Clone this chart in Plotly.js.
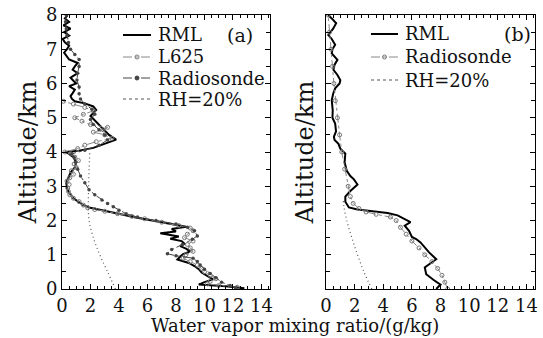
<!DOCTYPE html>
<html><head><meta charset="utf-8">
<script src="https://cdn.plot.ly/plotly-3.0.1.min.js"></script>
<style>html,body{margin:0;padding:0;background:#fff}#chart{width:543px;height:338px}</style>
</head><body><div id="chart"></div>
<script>
// ---- Panel (a) data ----
var rmlA_alt = [0.02,0.08,0.13,0.2,0.28,0.38,0.48,0.58,0.67,0.76,0.86,0.95,1.02,1.1,1.18,1.25,1.32,1.4,1.47,1.53,1.58,1.63,1.68,1.75,1.82,1.88,1.95,2.03,2.1,2.17,2.22,2.28,2.33,2.38,2.45,2.55,2.65,2.8,2.95,3.1,3.25,3.4,3.55,3.7,3.85,3.97,4.0,4.04,4.12,4.25,4.36,4.5,4.62,4.75,4.9,5.05,5.23,5.33,5.42,5.48,5.55,5.63,5.72,5.82,5.92,6.0,6.08,6.17,6.3,6.4,6.5,6.6,6.7,6.8,6.9,7.0,7.1,7.2,7.3,7.4,7.5,7.6,7.7,7.8,7.9,8.0];
var rmlA_val = [12.8,11.5,9.6,10.0,10.6,10.2,9.8,9.6,9.3,8.9,8.1,8.3,8.5,9.0,8.7,8.3,8.6,8.4,7.6,8.2,7.5,6.9,8.0,7.7,8.7,7.9,6.8,6.0,5.0,4.3,3.7,2.9,2.3,1.9,1.5,1.1,0.8,0.5,0.35,0.3,0.45,0.6,0.9,1.0,0.8,0.4,0.2,1.2,2.2,3.0,3.8,3.3,3.0,2.7,2.3,2.0,2.4,2.2,1.6,0.9,0.7,0.6,0.75,0.9,0.5,1.0,0.8,0.6,1.1,0.75,0.9,1.1,0.5,0.3,0.15,0.35,0.5,0.2,0.05,0.5,0.15,0.6,0.1,0.5,0.2,0.4];

var l625_alt = [0.05,0.1,0.15,0.22,0.3,0.4,0.5,0.6,0.7,0.8,0.9,1.0,1.1,1.2,1.3,1.4,1.5,1.6,1.7,1.78,1.85,1.95,2.05,2.12,2.2,2.27,2.32,2.37,2.45,2.55,2.65,2.75,2.85,2.95,3.05,3.15,3.25,3.35,3.45,3.55,3.65,3.75,3.85,3.95,4.0,4.1,4.2,4.3,4.4,4.5,4.58,4.65,4.72,4.8,4.9,5.0,5.1,5.2,5.3,5.4,5.48];
var l625_val = [12.3,11.0,10.2,10.4,10.8,10.4,10.0,9.8,9.5,9.0,8.5,8.7,9.2,9.0,8.8,9.2,8.6,8.8,9.2,9.0,8.2,7.0,5.8,4.9,3.9,3.0,2.3,1.8,1.5,1.2,0.8,0.55,0.45,0.4,0.5,0.35,0.55,0.8,0.65,1.0,0.85,1.15,0.9,0.6,0.2,1.1,1.6,2.4,3.5,3.0,2.2,2.9,3.2,2.0,1.4,0.9,1.5,2.2,1.6,0.8,0.1];

var sondeA_alt = [0.03,0.1,0.2,0.33,0.45,0.58,0.7,0.8,0.9,0.97,1.03,1.15,1.3,1.45,1.55,1.7,1.8,1.9,2.0,2.1,2.2,2.3,2.4,2.5,2.6,2.75,2.9,3.1,3.3,3.5,3.7,3.85,3.95,4.05,4.2,4.35,4.5,4.65,4.8,4.95,5.1,5.25,5.4,5.55,5.7,5.9,6.1,6.3,6.5,6.7,6.85,7.0,7.2,7.4,7.6,7.8,8.0];
var sondeA_val = [12.2,11.8,11.2,10.8,10.4,10.0,9.7,9.5,9.2,8.0,7.4,7.7,8.45,9.15,9.5,9.3,8.8,8.0,6.6,5.3,4.5,4.0,3.6,3.2,2.8,2.3,1.9,1.6,1.3,1.1,0.95,0.85,0.7,1.6,2.6,3.2,3.0,2.6,2.2,2.0,2.3,2.1,1.6,1.3,1.2,1.2,1.05,1.1,1.2,1.2,0.9,0.6,0.45,0.35,0.3,0.25,0.3];

var rhA_alt = [0,0.5,1.0,1.5,2.0,2.5,3.0,3.5,4.0];
var rhA_val = [3.75,3.2,2.65,2.2,1.9,1.85,1.87,1.9,1.95];

// ---- Panel (b) data ----
var rmlB_alt = [0.0,0.13,0.27,0.43,0.63,0.75,0.87,1.07,1.25,1.36,1.46,1.52,1.7,1.85,1.95,2.05,2.15,2.22,2.28,2.32,2.38,2.55,2.7,2.86,3.05,3.2,3.3,3.45,3.7,3.95,4.1,4.24,4.35,4.44,4.6,4.83,5.0,5.22,5.51,5.7,5.86,6.0,6.1,6.25,6.4,6.55,6.69,6.88,7.0,7.13,7.3,7.42,7.6,7.76,7.9,8.0];
var rmlB_val = [7.7,8.0,7.5,7.0,6.9,7.3,7.7,7.2,6.8,6.6,6.3,6.0,5.8,5.5,5.9,5.5,5.0,4.3,3.1,2.2,1.6,1.35,1.35,1.7,2.2,1.95,1.7,1.45,1.3,1.35,1.0,0.87,0.6,0.55,0.7,0.64,0.45,0.47,0.4,0.5,0.64,0.95,1.0,0.8,0.52,0.6,0.8,0.4,0.45,0.64,0.4,0.16,0.5,0.71,0.4,0.15];

var sondeB_alt = [0.0,0.2,0.4,0.6,0.8,1.0,1.2,1.4,1.6,1.8,2.0,2.1,2.18,2.25,2.35,2.5,2.7,3.0,3.5,4.0,4.5,5.0,5.5,6.0,6.5,7.0,7.5,8.0];
var sondeB_val = [8.5,8.3,8.1,7.8,7.4,6.9,6.5,6.0,5.6,5.2,4.9,4.5,3.5,2.8,2.3,1.9,1.7,1.55,1.3,1.1,0.95,0.8,0.65,0.55,0.45,0.35,0.25,0.15];

var rhB_alt = [0,0.5,1.0,1.5,2.0,2.4,2.6];
var rhB_val = [3.2,2.65,2.2,1.8,1.45,1.25,1.2];

// legend labels
var legendA = ['RML', 'L625', 'Radiosonde', 'RH=20%'];
var legendB = ['RML', 'Radiosonde', 'RH=20%'];
var panelLabels = ['(a)', '(b)'];
var xTitle = 'Water vapor mixing ratio/(g/kg)';
var yTitle = 'Altitude/km';

var FONT = 'DejaVu Serif';
var TXT = '#111';

// styles
var S = {
  rml:    {mode: 'lines', line: {color: '#000', width: 2}},
  l625:   {mode: 'lines+markers', line: {color: '#888', width: 1, dash: 'dashdot'}, marker: {symbol: 'circle-open', size: 4, color: '#777', line: {width: 1}}},
  sondeA: {mode: 'lines+markers', line: {color: '#444', width: 1, dash: 'dashdot'}, marker: {symbol: 'circle', size: 3.5, color: '#444'}},
  sondeB: {mode: 'lines+markers', line: {color: '#888', width: 1, dash: 'dashdot'}, marker: {symbol: 'circle-open', size: 4, color: '#777', line: {width: 1}}},
  rh:     {mode: 'lines', line: {color: '#555', width: 1.2, dash: '1px,3px', shape: 'spline'}}
};
function tr(x, y, name, st, xa, ya) {
  return Object.assign({x: x, y: y, name: name, xaxis: xa, yaxis: ya, showlegend: false}, JSON.parse(JSON.stringify(st)));
}
var traces = [
  tr(rmlA_val, rmlA_alt, legendA[0], S.rml, 'x', 'y'),
  tr(l625_val, l625_alt, legendA[1], S.l625, 'x', 'y'),
  tr(sondeA_val, sondeA_alt, legendA[2], S.sondeA, 'x', 'y'),
  tr(rhA_val, rhA_alt, legendA[3], S.rh, 'x', 'y'),
  tr(rmlB_val, rmlB_alt, legendB[0], S.rml, 'x2', 'y2'),
  tr(sondeB_val, sondeB_alt, legendB[1], S.sondeB, 'x2', 'y2'),
  tr(rhB_val, rhB_alt, legendB[2], S.rh, 'x2', 'y2')
];

function xax(dom, anchor) {
  return {domain: dom, anchor: anchor, range: [0, 14.6], dtick: 2, tick0: 0, ticks: 'inside', ticklen: 5, tickcolor: '#000',
    showline: true, linecolor: '#000', linewidth: 1, mirror: 'ticks', showgrid: false, zeroline: false,
    minor: {dtick: 0.5, ticks: 'inside', ticklen: 3, tickcolor: '#000', showgrid: false},
    tickfont: {family: FONT, size: 18, color: TXT}};
}
function yax(dom, labels, anchor) {
  return {domain: dom, range: [0, 8], dtick: 1, tick0: 0, ticks: 'inside', ticklen: 5, tickcolor: '#000', anchor: anchor,
    showline: true, linecolor: '#000', linewidth: 1, mirror: 'ticks', showgrid: false, zeroline: false,
    showticklabels: labels,
    minor: {dtick: 0.5, ticks: 'inside', ticklen: 4, tickcolor: '#000', showgrid: false},
    tickfont: {family: FONT, size: 18, color: TXT},
    title: {text: yTitle, font: {family: FONT, size: 24, color: TXT}, standoff: labels ? 2 : 4}};
}

var W = 543, H = 338;
function px(v) { return v / W; }
function py(v) { return 1 - v / H; }

// manual legend (layout decoration)
var shapes = [], annotations = [];
function legendEntry(x0, x1, yPix, label, st) {
  var ln = st.line;
  shapes.push({type: 'line', xref: 'paper', yref: 'paper', x0: px(x0), x1: px(x1), y0: py(yPix), y1: py(yPix),
    line: {color: ln.color, width: ln.width, dash: ln.dash === '1px,3px' ? 'dot' : (ln.dash || 'solid')}});
  if (st.marker) {
    var r = 2, cx = (x0 + x1) / 2;
    shapes.push({type: 'circle', xref: 'paper', yref: 'paper', x0: px(cx - r), x1: px(cx + r), y0: py(yPix + r), y1: py(yPix - r),
      line: {color: st.marker.color, width: 1}, fillcolor: st.marker.symbol === 'circle' ? st.marker.color : 'rgba(0,0,0,0)'});
  }
  annotations.push({text: label, xref: 'paper', yref: 'paper', x: px(x1 + 5), y: py(yPix), xanchor: 'left', yanchor: 'middle',
    showarrow: false, font: {family: FONT, size: 18, color: TXT}});
}
var rowsA = [35, 57, 78, 99];
var stylesA = [S.rml, S.l625, S.sondeA, S.rh];
legendA.forEach(function (l, i) { legendEntry(123, 151, rowsA[i], l, stylesA[i]); });
var rowsB = [34, 57, 80];
var stylesB = [S.rml, S.sondeB, S.rh];
legendB.forEach(function (l, i) { legendEntry(371, 398, rowsB[i], l, stylesB[i]); });

annotations.push({text: panelLabels[0], xref: 'paper', yref: 'paper', x: px(240), y: py(35), xanchor: 'center', yanchor: 'middle', showarrow: false, font: {family: FONT, size: 19, color: TXT}});
annotations.push({text: panelLabels[1], xref: 'paper', yref: 'paper', x: px(517), y: py(34), xanchor: 'center', yanchor: 'middle', showarrow: false, font: {family: FONT, size: 19, color: TXT}});
annotations.push({text: xTitle, xref: 'paper', yref: 'paper', x: px(295), y: py(325), xanchor: 'center', yanchor: 'middle', showarrow: false, font: {family: FONT, size: 18, color: TXT}});

var layout = {
  width: W, height: H, margin: {l: 0, r: 0, t: 0, b: 0},
  paper_bgcolor: '#fff', plot_bgcolor: '#fff', showlegend: false,
  xaxis: xax([px(62), px(270)], 'y'),
  xaxis2: xax([px(326), px(535)], 'y2'),
  yaxis: yax([py(289), py(15)], true, 'x'),
  yaxis2: yax([py(289), py(15)], false, 'x2'),
  shapes: shapes,
  annotations: annotations
};

Plotly.newPlot('chart', traces, layout, {displayModeBar: false, staticPlot: true});
</script></body></html>
